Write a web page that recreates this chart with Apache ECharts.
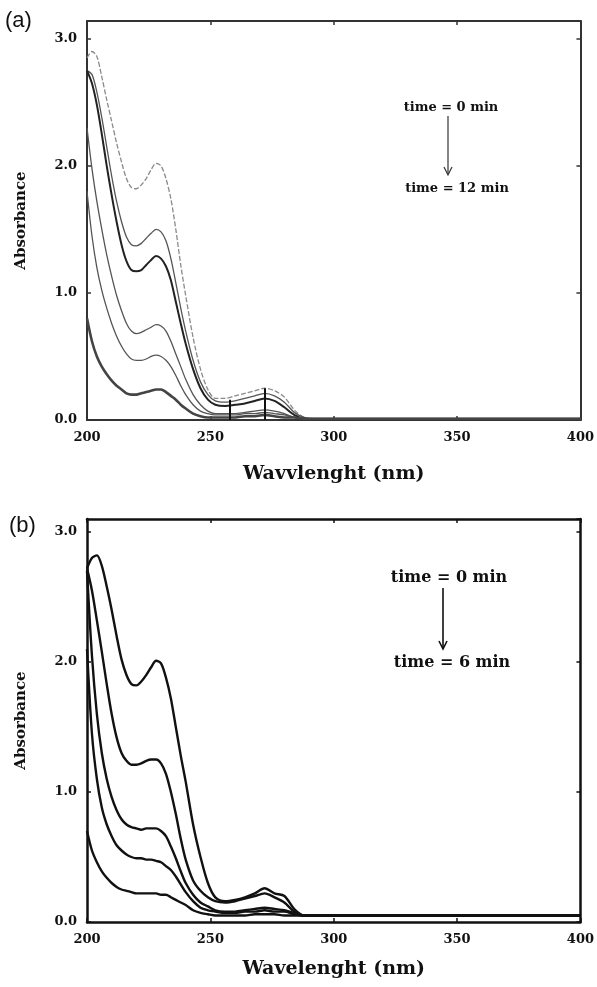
<!DOCTYPE html>
<html>
<head>
<meta charset="utf-8">
<script src="https://cdn.jsdelivr.net/npm/echarts@6/dist/echarts.min.js"></script>
<style>
  html, body { margin: 0; padding: 0; background: #fff; }
  #main { width: 597px; height: 987px; }
</style>
</head>
<body>
<div id="main"></div>
<script>
// wavelength grid (nm), shared by all curves
var wavelength = [200, 202, 204, 206, 208, 210, 212, 214, 216, 218,
                  220, 222, 224, 226, 228, 230, 232, 234, 236, 238,
                  240, 243, 246, 249, 252, 256, 260, 264, 268, 272,
                  276, 280, 284, 288, 292, 300, 350, 400];

// panel (a): time = 0 .. 12 min
var absA1 = [2.85, 2.9, 2.86, 2.7, 2.52, 2.35, 2.18, 2.03, 1.9, 1.83,
             1.82, 1.85, 1.9, 1.97, 2.02, 2.0, 1.9, 1.74, 1.5, 1.22,
             0.98, 0.65, 0.4, 0.24, 0.17, 0.17, 0.19, 0.21, 0.23, 0.25,
             0.23, 0.18, 0.08, 0.02, 0.01, 0.01, 0.01, 0.01];
var absA2 = [2.75, 2.72, 2.58, 2.38, 2.15, 1.92, 1.72, 1.56, 1.44, 1.38,
             1.37, 1.39, 1.43, 1.47, 1.5, 1.48, 1.41, 1.27, 1.08, 0.88,
             0.7, 0.47, 0.3, 0.2, 0.15, 0.14, 0.15, 0.17, 0.19, 0.21,
             0.19, 0.14, 0.06, 0.02, 0.01, 0.01, 0.01, 0.01];
var absA3 = [2.75, 2.65, 2.48, 2.25, 2.0, 1.77, 1.56, 1.38, 1.25, 1.18,
             1.17, 1.18, 1.22, 1.26, 1.29, 1.27, 1.21, 1.1, 0.93, 0.76,
             0.6, 0.4, 0.25, 0.16, 0.12, 0.11, 0.12, 0.13, 0.15, 0.17,
             0.15, 0.1, 0.04, 0.01, 0.01, 0.01, 0.01, 0.01];
var absA4 = [2.3, 1.98, 1.72, 1.5, 1.3, 1.13, 0.98, 0.86, 0.76, 0.7,
             0.68, 0.69, 0.71, 0.73, 0.75, 0.74, 0.7, 0.62, 0.52, 0.42,
             0.32, 0.2, 0.12, 0.07, 0.05, 0.05, 0.05, 0.06, 0.07, 0.08,
             0.07, 0.05, 0.02, 0.01, 0.01, 0.01, 0.01, 0.01];
var absA5 = [1.8, 1.45, 1.2, 1.02, 0.88, 0.76, 0.66, 0.58, 0.52, 0.48,
             0.47, 0.47, 0.48, 0.5, 0.51, 0.5, 0.47, 0.42, 0.35, 0.27,
             0.2, 0.12, 0.07, 0.05, 0.04, 0.04, 0.04, 0.05, 0.05, 0.06,
             0.05, 0.04, 0.02, 0.01, 0.01, 0.01, 0.01, 0.01];
var absA6 = [0.8, 0.62, 0.5, 0.42, 0.36, 0.31, 0.27, 0.24, 0.21, 0.2,
             0.2, 0.21, 0.22, 0.23, 0.24, 0.24, 0.22, 0.19, 0.16, 0.12,
             0.09, 0.05, 0.03, 0.02, 0.02, 0.02, 0.02, 0.03, 0.03, 0.04,
             0.03, 0.02, 0.02, 0.01, 0.01, 0.01, 0.01, 0.01];

// panel (b): time = 0 .. 6 min
var absB1 = [2.72, 2.8, 2.82, 2.74, 2.58, 2.4, 2.2, 2.02, 1.9, 1.83,
             1.82, 1.85, 1.9, 1.96, 2.01, 1.99, 1.88, 1.72, 1.5, 1.28,
             1.08, 0.75, 0.5, 0.3, 0.19, 0.16, 0.17, 0.19, 0.22, 0.26,
             0.22, 0.2, 0.1, 0.05, 0.05, 0.05, 0.05, 0.05];
var absB2 = [2.72, 2.55, 2.32, 2.08, 1.83, 1.6, 1.42, 1.3, 1.24, 1.21,
             1.21, 1.22, 1.24, 1.25, 1.25, 1.22, 1.14, 1.0, 0.83, 0.64,
             0.48, 0.32, 0.24, 0.19, 0.16, 0.15, 0.16, 0.18, 0.2, 0.22,
             0.19, 0.15, 0.08, 0.05, 0.05, 0.05, 0.05, 0.05];
var absB3 = [2.7, 2.05, 1.6, 1.3, 1.1, 0.96, 0.86, 0.79, 0.75, 0.73,
             0.72, 0.71, 0.72, 0.72, 0.72, 0.7, 0.66, 0.58, 0.49, 0.39,
             0.3, 0.21, 0.15, 0.12, 0.09, 0.08, 0.08, 0.09, 0.1, 0.11,
             0.1, 0.09, 0.07, 0.05, 0.05, 0.05, 0.05, 0.05];
var absB4 = [2.1, 1.45, 1.1, 0.88, 0.75, 0.66, 0.59, 0.55, 0.52, 0.5,
             0.49, 0.49, 0.48, 0.48, 0.47, 0.46, 0.43, 0.4, 0.35, 0.29,
             0.23, 0.16, 0.11, 0.09, 0.08, 0.07, 0.07, 0.08, 0.08, 0.09,
             0.08, 0.08, 0.06, 0.05, 0.05, 0.05, 0.05, 0.05];
var absB5 = [0.7, 0.55, 0.46, 0.39, 0.34, 0.3, 0.27, 0.25, 0.24, 0.23,
             0.22, 0.22, 0.22, 0.22, 0.22, 0.21, 0.21, 0.19, 0.17, 0.15,
             0.13, 0.09, 0.07, 0.06, 0.05, 0.05, 0.05, 0.05, 0.06, 0.06,
             0.06, 0.05, 0.05, 0.05, 0.05, 0.05, 0.05, 0.05];

// little vertical markers seen in panel (a)
var markerA = [[258, 0.16], [272, 0.25]];

var yTicks = [0, 1, 2, 3];

var serifBold = 'DejaVu Serif';

function pairs(ys) {
    return wavelength.map(function (w, i) { return [w, ys[i]]; });
}

function curve(idx, ys, color, width, dashed) {
    return {
        type: 'line',
        xAxisIndex: idx * 2,
        yAxisIndex: idx * 2,
        data: pairs(ys),
        smooth: 0.3,
        showSymbol: false,
        symbol: 'none',
        lineStyle: { color: color, width: width, type: dashed ? [5, 2] : 'solid' },
        silent: true
    };
}

function xAxes(grid, lineColor, lineWidth, name, gap) {
    return [{
        type: 'value', gridIndex: grid, min: 200, max: 400, interval: 50, position: 'bottom',
        name: name, nameLocation: 'middle', nameGap: gap,
        nameTextStyle: { fontFamily: serifBold, fontWeight: 'bold', fontSize: 19, color: '#111' },
        axisLine: { onZero: false, lineStyle: { color: lineColor, width: lineWidth } },
        axisTick: { inside: true, length: 4, lineStyle: { color: lineColor, width: 1.5 } },
        axisLabel: { fontFamily: serifBold, fontWeight: 'bold', fontSize: 13, color: '#111', margin: 11 },
        splitLine: { show: false }
    }, {
        type: 'value', gridIndex: grid, min: 200, max: 400, interval: 50, position: 'top',
        axisLine: { onZero: false, lineStyle: { color: lineColor, width: lineWidth } },
        axisTick: { inside: true, length: 4, lineStyle: { color: lineColor, width: 1.5 } },
        axisLabel: { show: false },
        splitLine: { show: false }
    }];
}

function yAxes(grid, lineColor, lineWidth, max) {
    return [{
        type: 'value', gridIndex: grid, min: 0, max: max, interval: 1, position: 'left',
        name: 'Absorbance', nameLocation: 'middle', nameGap: 58,
        nameTextStyle: { fontFamily: serifBold, fontWeight: 'bold', fontSize: 15, color: '#111' },
        axisLine: { onZero: false, lineStyle: { color: lineColor, width: lineWidth } },
        axisTick: { inside: true, length: 4, lineStyle: { color: lineColor, width: 1.5 } },
        axisLabel: {
            fontFamily: serifBold, fontWeight: 'bold', fontSize: 13, color: '#111', margin: 10,
            showMaxLabel: false,
            formatter: function (v) { return yTicks.indexOf(v) >= 0 ? v.toFixed(1) : ''; }
        },
        splitLine: { show: false }
    }, {
        type: 'value', gridIndex: grid, min: 0, max: max, interval: 1, position: 'right',
        axisLine: { onZero: false, lineStyle: { color: lineColor, width: lineWidth } },
        axisTick: { inside: true, length: 4, lineStyle: { color: lineColor, width: 1.5 } },
        axisLabel: { show: false },
        splitLine: { show: false }
    }];
}

var seriesA = [
    curve(0, absA1, '#8a8a8a', 1.3, true),
    curve(0, absA2, '#555', 1.3),
    curve(0, absA3, '#222', 2),
    curve(0, absA4, '#555', 1.3),
    curve(0, absA5, '#555', 1.3),
    curve(0, absA6, '#444', 2.6)
];
seriesA[2].markLine = {
    silent: true, symbol: 'none', label: { show: false },
    lineStyle: { color: '#111', width: 2, type: 'solid' },
    data: markerA.map(function (m) { return [{ coord: [m[0], 0] }, { coord: [m[0], m[1]] }]; })
};

var seriesB = [
    curve(1, absB1, '#111', 2.4),
    curve(1, absB2, '#111', 2.4),
    curve(1, absB3, '#111', 2.4),
    curve(1, absB4, '#111', 2.4),
    curve(1, absB5, '#111', 2.4)
];

var chart = echarts.init(document.getElementById('main'), null, { renderer: 'canvas' });
chart.setOption({
    animation: false,
    backgroundColor: '#fff',
    grid: [
        { left: 87, right: 14, top: 21, height: 399 },
        { left: 87, right: 12, top: 519, height: 403 }
    ],
    xAxis: xAxes(0, '#333', 2, 'Wavvlenght (nm)', 45).concat(xAxes(1, '#111', 2.5, 'Wavelenght (nm)', 38)),
    yAxis: yAxes(0, '#333', 2, 3.14).concat(yAxes(1, '#111', 2.5, 3.1)),
    series: seriesA.concat(seriesB),
    graphic: [
        { type: 'text', left: 5, top: 10, style: { text: '(a)', font: '500 22px "Liberation Sans", Arial, sans-serif', fill: '#111' } },
        { type: 'text', left: 9, top: 515, style: { text: '(b)', font: '500 22px "Liberation Sans", Arial, sans-serif', fill: '#111' } },
        // panel (a) annotation
        { type: 'text', x: 451, y: 108, style: { text: 'time = 0 min', font: 'bold 13px "DejaVu Serif"', fill: '#111', align: 'center', verticalAlign: 'middle' } },
        { type: 'line', shape: { x1: 448, y1: 116, x2: 448, y2: 174 }, style: { stroke: '#333', lineWidth: 1.2 } },
        { type: 'polyline', shape: { points: [[444, 167], [448, 175], [452, 167]] }, style: { stroke: '#333', lineWidth: 1.2, fill: null } },
        { type: 'text', x: 457, y: 189, style: { text: 'time = 12 min', font: 'bold 13px "DejaVu Serif"', fill: '#111', align: 'center', verticalAlign: 'middle' } },
        // panel (b) annotation
        { type: 'text', x: 449, y: 578, style: { text: 'time = 0 min', font: 'bold 16px "DejaVu Serif"', fill: '#111', align: 'center', verticalAlign: 'middle' } },
        { type: 'line', shape: { x1: 443, y1: 588, x2: 443, y2: 648 }, style: { stroke: '#111', lineWidth: 1.6 } },
        { type: 'polyline', shape: { points: [[439, 641], [443, 649], [447, 641]] }, style: { stroke: '#111', lineWidth: 1.6, fill: null } },
        { type: 'text', x: 452, y: 663, style: { text: 'time = 6 min', font: 'bold 16px "DejaVu Serif"', fill: '#111', align: 'center', verticalAlign: 'middle' } }
    ]
});
</script>
</body>
</html>
